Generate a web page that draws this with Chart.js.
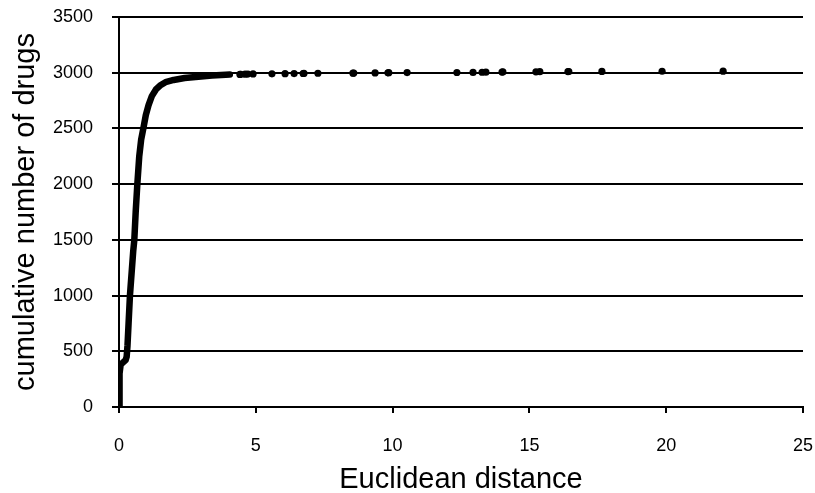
<!DOCTYPE html>
<html>
<head>
<meta charset="utf-8">
<script src="https://cdn.jsdelivr.net/npm/chart.js@4"></script>
<style>
  html, body { margin: 0; padding: 0; background: #fff; }
  #wrap { width: 815px; height: 493px; }
</style>
</head>
<body>
<div id="wrap"><canvas id="c" width="815" height="493"></canvas></div>
<script>
// Dense cumulative curve
const curveX = [0, 0.01, 0.03, 0.06, 0.15, 0.24, 0.28, 0.31, 0.35, 0.40, 0.46, 0.52, 0.56, 0.61, 0.67, 0.74, 0.81, 0.89, 0.98, 1.08, 1.2, 1.35, 1.5, 1.7, 2.0, 2.4, 2.9, 3.4, 3.9, 4.05];
const curveY = [0, 150, 300, 380, 400, 420, 450, 550, 750, 1000, 1200, 1400, 1500, 1750, 2000, 2250, 2400, 2500, 2620, 2710, 2790, 2850, 2885, 2915, 2935, 2952, 2964, 2974, 2982, 2984];
// Sparse outlying drugs
const tailX = [4.42, 4.45, 4.61, 4.71, 4.90, 5.59, 6.07, 6.40, 6.73, 6.76, 7.27, 8.55, 8.58, 9.36, 9.83, 9.86, 10.53, 12.35, 12.94, 13.27, 13.41, 14.0, 14.03, 15.24, 15.38, 16.41, 16.44, 17.65, 19.85, 22.08];
const tailY = [2985, 2986, 2987, 2988, 2989, 2990, 2991, 2992, 2993, 2994, 2995, 2996, 2997, 2998, 2999, 3000, 3001, 3002, 3003, 3004, 3005, 3006, 3007, 3008, 3009, 3010, 3011, 3012, 3013, 3014];
const xTickStep = 5;
const yTickStep = 500;

const curveData = curveX.map((x, i) => ({x: x, y: curveY[i]}));
const tailData = tailX.map((x, i) => ({x: x, y: tailY[i]}));

const FONT = "'Liberation Sans', Arial, sans-serif";
Chart.defaults.font.family = FONT;
Chart.defaults.font.size = 18;
Chart.defaults.color = '#000';

new Chart(document.getElementById('c'), {
  type: 'scatter',
  data: {
    datasets: [
      {
        data: curveData,
        showLine: true,
        borderColor: '#000',
        backgroundColor: '#000',
        borderWidth: 6.5,
        borderCapStyle: 'round',
        borderJoinStyle: 'round',
        pointRadius: 0,
        tension: 0
      },
      {
        data: tailData,
        showLine: false,
        borderColor: '#000',
        backgroundColor: '#000',
        pointRadius: 3.6,
        pointBorderWidth: 0
      }
    ]
  },
  options: {
    responsive: false,
    animation: false,
    devicePixelRatio: 1,
    layout: { padding: { top: 17, right: 12, left: 0, bottom: 0 } },
    plugins: { legend: { display: false }, tooltip: { enabled: false } },
    scales: {
      x: {
        type: 'linear',
        min: 0, max: 25,
        afterFit: (s) => { s.height = 86; s.paddingLeft = 0; s.paddingRight = 0; },
        grid: { drawOnChartArea: false, drawTicks: true, tickLength: 6, color: '#000', lineWidth: 2 },
        border: { display: true, color: '#000', width: 2 },
        ticks: { stepSize: xTickStep, color: '#000', padding: 22, font: { family: FONT, size: 18 }, maxRotation: 0,
                 callback: (v) => String(v) },
        title: { display: true, text: 'Euclidean distance', color: '#000',
                 font: { family: FONT, size: 29, lineHeight: 0.9 }, padding: { top: 0, bottom: 0 } }
      },
      y: {
        type: 'linear',
        min: 0, max: 3500,
        afterFit: (s) => { s.width = 119; s.paddingTop = 0; s.paddingBottom = 0; },
        grid: { drawOnChartArea: true, drawTicks: true, tickLength: 7, color: '#000', lineWidth: 2 },
        border: { display: true, color: '#000', width: 2 },
        ticks: { stepSize: yTickStep, color: '#000', padding: 19, font: { family: FONT, size: 18 },
                 callback: (v) => String(v) },
        title: { display: true, text: 'cumulative number of drugs', color: '#000',
                 font: { family: FONT, size: 29, lineHeight: 1 }, padding: { top: 11, bottom: 0 } }
      }
    }
  }
});
</script>
</body>
</html>
